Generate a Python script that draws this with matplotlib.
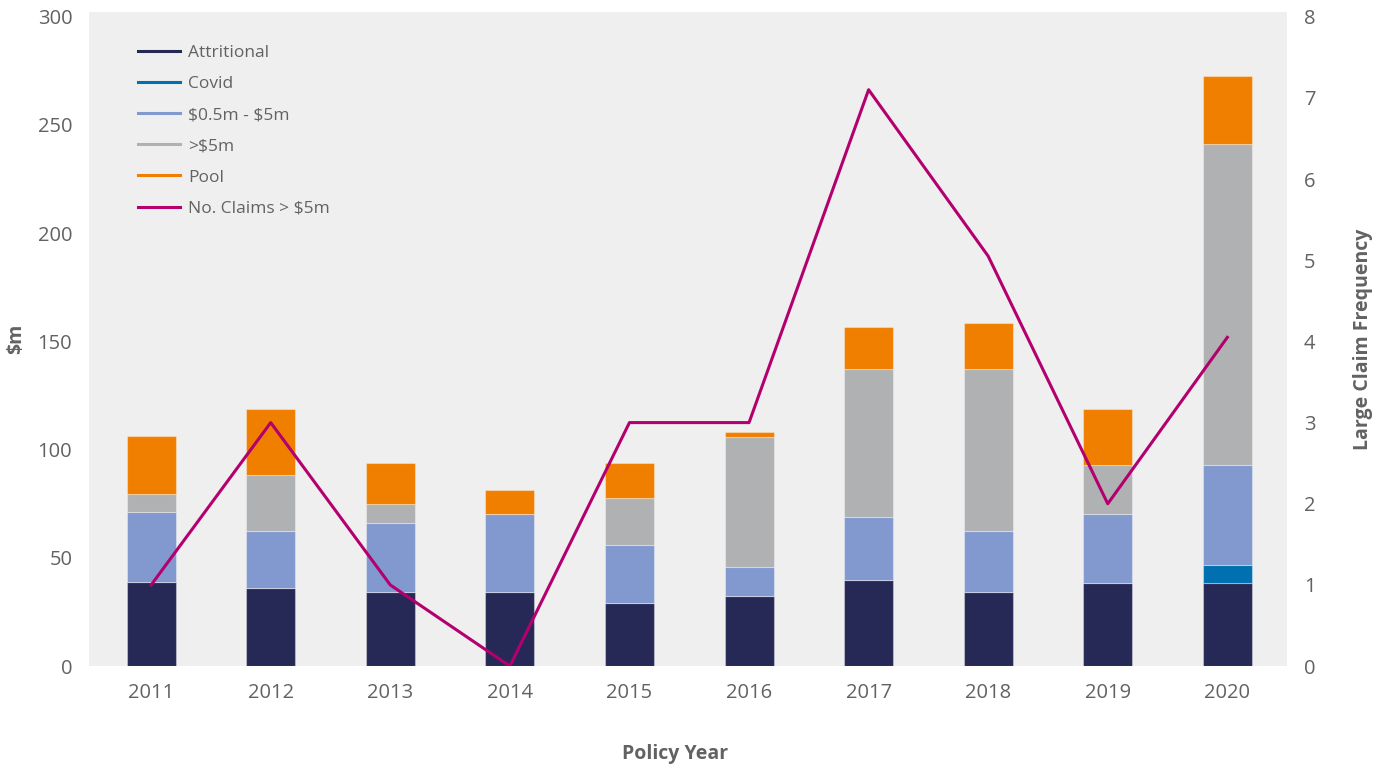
import matplotlib.pyplot as plt
from matplotlib.lines import Line2D
import numpy as np

years = ["2011", "2012", "2013", "2014", "2015", "2016", "2017", "2018", "2019", "2020"]
attritional = [39.0, 36.3, 34.4, 34.4, 29.0, 32.6, 39.9, 34.4, 38.2, 38.2]
covid = [0, 0, 0, 0, 0, 0, 0, 0, 0, 8.5]
mid_claims = [32.0, 26.0, 31.6, 35.9, 27.0, 13.4, 28.9, 27.9, 31.9, 46.3]
large_claims = [8.6, 26.2, 9.1, 0, 21.7, 59.7, 68.4, 74.9, 22.9, 148.0]
pool = [26.9, 30.5, 18.7, 11.0, 16.3, 2.5, 19.5, 21.4, 26.0, 31.6]
n_claims = [1, 3, 1, 0, 3, 3, 7.1, 5.05, 2, 4.05]

c_attr = "#262955"
c_covid = "#0070b0"
c_mid = "#8299cf"
c_large = "#b0b1b3"
c_pool = "#f07f00"
c_line = "#b3006e"
txt = "#626262"

plt.rcParams['font.family'] = ['Open Sans', 'DejaVu Sans']

fig = plt.figure(figsize=(13.9, 7.71), dpi=100)
ax = fig.add_axes([0.064, 0.136, 0.862, 0.848])
ax.set_facecolor("#efefef")
ax2 = ax.twinx()

x = np.arange(len(years))
w = 0.41
bottom = np.zeros(len(years))
for vals, col in [(attritional, c_attr), (covid, c_covid), (mid_claims, c_mid),
                  (large_claims, c_large), (pool, c_pool)]:
    ax.bar(x, vals, w, bottom=bottom, color=col, edgecolor=(1, 1, 1, 0.35), linewidth=0.8, zorder=2)
    bottom += np.array(vals)

ax2.plot(x, n_claims, color=c_line, linewidth=2.2, zorder=3)

ax.set_xlim(-0.52, 9.5)
ax.set_ylim(0, 302)
ax2.set_ylim(0, 8 * 302 / 300)
ax.set_yticks(range(0, 301, 50))
ax2.set_yticks(range(0, 9))
ax.set_xticks(x)
ax.set_xticklabels(years)

for a in (ax, ax2):
    for s in a.spines.values():
        s.set_visible(False)
    a.tick_params(length=0, labelsize=14.5, colors=txt)
ax.tick_params(axis="x", pad=12)
ax.tick_params(axis="y", pad=12)
ax2.tick_params(axis="y", pad=12)

ax.set_xlabel("Policy Year", fontsize=14, fontweight="bold", color=txt)
ax.xaxis.set_label_coords(0.489, -0.119)
ax.set_ylabel("\\$m", fontsize=14, fontweight="bold", color=txt, labelpad=8)
ax2.set_ylabel("Large Claim Frequency", fontsize=14, fontweight="bold", color=txt, labelpad=27)

handles = [Line2D([], [], color=c, linewidth=2.2) for c in
           [c_attr, c_covid, c_mid, c_large, c_pool, c_line]]
labels = ["Attritional", "Covid", "\\$0.5m - \\$5m", ">\\$5m", "Pool", "No. Claims > \\$5m"]
leg = ax.legend(handles, labels, loc="upper left", bbox_to_anchor=(0.041, 0.95), frameon=False,
                fontsize=12.5, handlelength=2.4, labelspacing=0.86, handletextpad=0.5,
                borderpad=0, borderaxespad=0)
for t in leg.get_texts():
    t.set_color(txt)

fig.savefig("out.png", dpi=100)
